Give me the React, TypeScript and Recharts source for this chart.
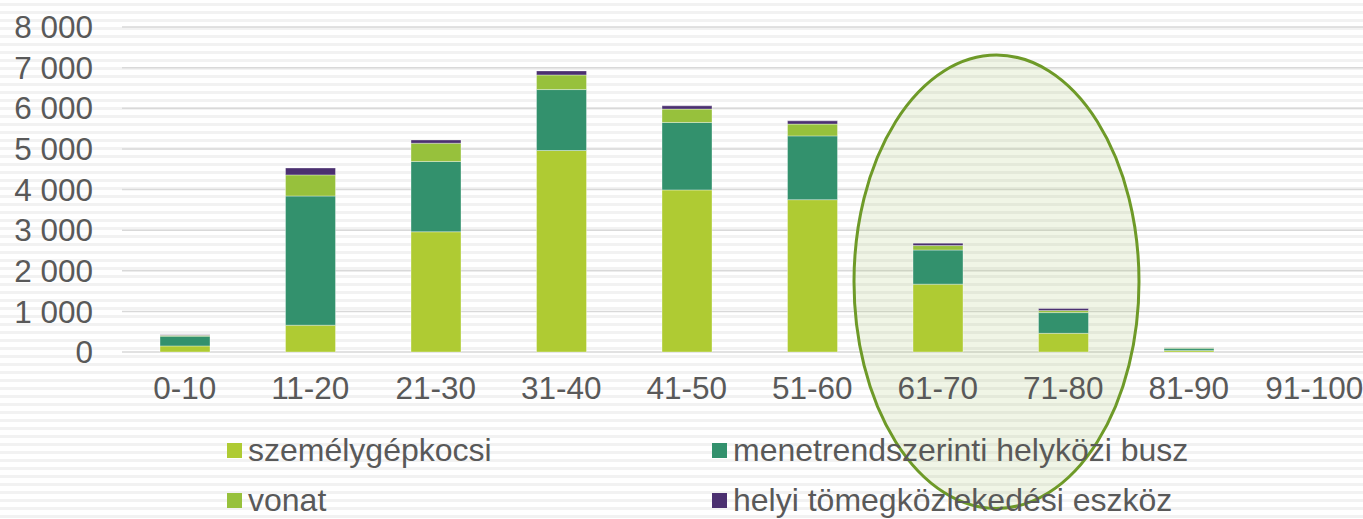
import React from "react"
import {
  BarChart, Bar, XAxis, YAxis, CartesianGrid, Legend, ReferenceArea,
} from "recharts"

const categories = ["0-10", "11-20", "21-30", "31-40", "41-50", "51-60", "61-70", "71-80", "81-90", "91-100"]
const szemelygepkocsi = [150, 660, 2960, 4960, 3990, 3750, 1670, 460, 40, 0]
const busz = [240, 3180, 1730, 1500, 1660, 1570, 840, 510, 50, 0]
const vonat = [20, 520, 450, 360, 330, 290, 110, 50, 20, 0]
const helyi = [15, 170, 80, 100, 80, 80, 60, 50, 5, 0]
const yTicks = [0, 1000, 2000, 3000, 4000, 5000, 6000, 7000, 8000]

const series = [
  { key: "szemelygepkocsi", name: "személygépkocsi", color: "#AFCB33", values: szemelygepkocsi },
  { key: "busz", name: "menetrendszerinti helyközi busz", color: "#33916D", values: busz },
  { key: "vonat", name: "vonat", color: "#97C13C", values: vonat },
  { key: "helyi", name: "helyi tömegközlekedési eszköz", color: "#4B3070", values: helyi },
]

const chartData = categories.map((c, i) => {
  const row: Record<string, string | number> = { name: c }
  series.forEach((s) => { row[s.key] = s.values[i] })
  return row
})

const FONT = "'Liberation Sans', Arial, sans-serif"
const TEXT = "#595959"

function fmt(v: number) {
  return String(v).replace(/\B(?=(\d{3})+(?!\d))/g, " ")
}

// legend grid: 2 columns, 2 rows
const legendPos = [
  { left: 227, top: 0 },
  { left: 712, top: 0 },
  { left: 227, top: 50 },
  { left: 712, top: 50 },
]

function LegendBox() {
  return (
    <div style={{ position: "relative", width: 1363, height: 107 }}>
      {series.map((s, i) => (
        <div key={s.key} style={{ position: "absolute", left: legendPos[i].left, top: legendPos[i].top }}>
          <div style={{ position: "absolute", left: 0, top: 31, width: 15, height: 15, background: s.color }} />
          <div style={{
            position: "absolute", left: 21, top: 22, whiteSpace: "nowrap",
            fontFamily: FONT, fontSize: 32, lineHeight: "32px", color: TEXT,
          }}>{s.name}</div>
        </div>
      ))}
    </div>
  )
}

function Ellipse(props: any) {
  const { x, y, width, height } = props
  return (
    <ellipse
      cx={x + width / 2 - 4}
      cy={y + height / 2}
      rx={width / 2 + 17}
      ry={height / 2}
      fill="#8DB43A"
      fillOpacity={0.13}
      stroke="#6E9A28"
      strokeWidth={3}
    />
  )
}

export default function App() {
  return (
    <div style={{
      position: "fixed", left: 0, top: 0, width: 1363, height: 519, overflow: "hidden",
      background: "repeating-linear-gradient(to bottom, #ffffff 0px, #ffffff 3px, #f2f2f2 3px, #f2f2f2 6px, #ffffff 6px, #ffffff 8px)",
    }}>
      <BarChart
        width={1380}
        height={519}
        data={chartData}
        margin={{ top: 27, right: 3, left: 0, bottom: 0 }}
      >
        <CartesianGrid vertical={false} stroke="#d9d9d9" strokeWidth={1.5} />
        <XAxis
          dataKey="name"
          axisLine={false}
          tickLine={false}
          tickMargin={19}
          height={60}
          interval={0}
          tick={{ fontSize: 31.5, fill: TEXT, fontFamily: FONT }}
        />
        <YAxis
          domain={[0, 8000]}
          ticks={yTicks}
          interval={0}
          axisLine={false}
          tickLine={false}
          tickSize={0}
          tickMargin={29}
          width={122}
          tickFormatter={fmt}
          tick={{ fontSize: 31.5, fill: TEXT, fontFamily: FONT }}
        />
        {series.map((s) => (
          <Bar
            key={s.key}
            dataKey={s.key}
            name={s.name}
            stackId="a"
            fill={s.color}
            stroke="rgba(255,255,255,0.35)"
            strokeWidth={1}
            barSize={50}
            isAnimationActive={false}
          />
        ))}
        <ReferenceArea
          x1="61-70"
          x2="71-80"
          y1={-3850}
          y2={7310}
          ifOverflow="visible"
          shape={Ellipse}
        />
        <Legend verticalAlign="bottom" content={() => <LegendBox />} />
      </BarChart>
    </div>
  )
}
